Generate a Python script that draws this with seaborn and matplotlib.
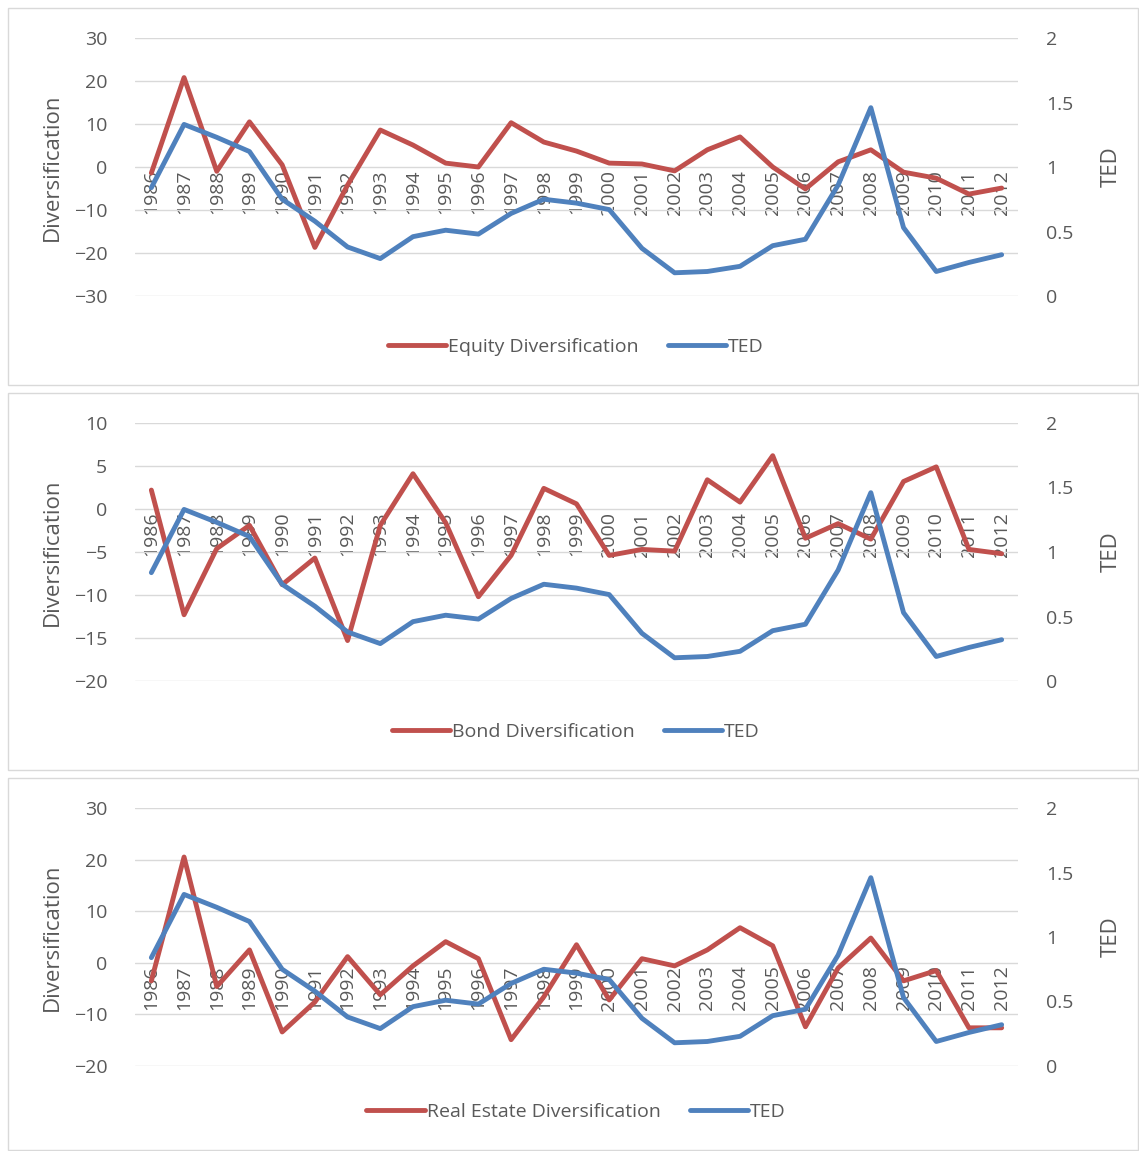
import matplotlib
matplotlib.use("Agg")
import matplotlib.pyplot as plt
import seaborn as sns
import pandas as pd
from matplotlib.patches import Rectangle

years = list(range(1986, 2013))
equity = [-1.4, 20.8, -1, 10.5, 0.5, -18.7, -4.2, 8.6, 5.1, 0.9, 0, 10.3, 5.8, 3.7, 0.9, 0.7, -0.9, 4, 7, 0, -5.1, 1.2, 4, -1.2, -2.6, -6.3, -4.9]
bond = [2.2, -12.3, -4.6, -1.9, -8.8, -5.7, -15.3, -1.9, 4.1, -1.6, -10.2, -5.4, 2.4, 0.6, -5.4, -4.7, -4.9, 3.4, 0.8, 6.2, -3.4, -1.7, -3.5, 3.2, 4.9, -4.7, -5.2]
real_estate = [-3.5, 20.5, -4.6, 2.5, -13.4, -7.6, 1.2, -6.2, -0.6, 4.1, 0.8, -14.9, -6.6, 3.5, -7.2, 0.8, -0.6, 2.5, 6.8, 3.3, -12.4, -1, 4.8, -3.5, -1.5, -12.6, -12.6]
ted = [0.84, 1.33, 1.23, 1.12, 0.75, 0.58, 0.38, 0.29, 0.46, 0.51, 0.48, 0.64, 0.75, 0.72, 0.67, 0.37, 0.18, 0.19, 0.23, 0.39, 0.44, 0.86, 1.46, 0.53, 0.19, 0.26, 0.32]

panels = [("Equity Diversification", equity, (-30, 30), 10),
          ("Bond Diversification", bond, (-20, 10), 5),
          ("Real Estate Diversification", real_estate, (-20, 30), 10)]

sns.set_style("white")
plt.rcParams['font.family'] = ['Open Sans', 'DejaVu Sans']
RED, BLUE, TXT = "#C0504D", "#4F81BD", "#595959"

W, H = 1139, 1151
fig = plt.figure(figsize=(W/100, H/100), dpi=100)
boxes = [(8, 385), (393, 770), (778, 1150)]
for i, (name, vals, lim, step) in enumerate(panels):
    top, bot = boxes[i]
    fig.add_artist(Rectangle((8/W, 1-bot/H), 1130/W, (bot-top)/H, transform=fig.transFigure,
                             fill=False, ec="#D9D9D9", lw=1))
    ytop = top + 30
    ybot = ytop + 258
    ax = fig.add_axes([135/W, 1-ybot/H, (1018-135)/W, 258/H])
    df = pd.DataFrame({"x": range(len(years)), "v": vals, "t": ted})
    sns.lineplot(data=df, x="x", y="v", ax=ax, color=RED, lw=3.5, label=name, legend=False)
    ax2 = ax.twinx()
    sns.lineplot(data=df, x="x", y="t", ax=ax2, color=BLUE, lw=3.5, label="TED", legend=False)
    ax.set_ylim(*lim)
    ax.set_yticks(list(range(lim[0], lim[1]+1, step)))
    ax.set_xlim(-0.5, len(years)-0.5)
    ax.set_xticks(range(len(years)))
    ax.set_xticklabels([str(y) for y in years])
    ax.spines['bottom'].set_position(('data', 0))
    for s in ax.spines.values():
        s.set_visible(False)
    ax.tick_params(axis='both', length=0, labelsize=14, labelcolor=TXT)
    ax.tick_params(axis='x', labelrotation=90, pad=2)
    ax.tick_params(axis='y', pad=20)
    ax.grid(axis='y', color="#D9D9D9", lw=1)
    ax.set_axisbelow(True)
    ax.set_xlabel("")
    ax.set_ylabel("Diversification", fontsize=16, color=TXT, labelpad=8)
    ax2.set_ylim(0, 2)
    ax2.set_yticks([0, 0.5, 1, 1.5, 2])
    ax2.set_yticklabels(["0", "0.5", "1", "1.5", "2"])
    for s in ax2.spines.values():
        s.set_visible(False)
    ax2.tick_params(axis='both', length=0)
    ax2.tick_params(axis='y', labelsize=14, labelcolor=TXT, pad=20)
    ax2.set_xlabel("")
    ax2.set_ylabel("TED", fontsize=16, color=TXT, labelpad=20)
    h1, l1 = ax.get_legend_handles_labels()
    h2, l2 = ax2.get_legend_handles_labels()
    fig.legend(h1+h2, l1+l2, loc="center", bbox_to_anchor=(576/W, 1-(bot-38)/H),
               ncol=2, frameon=False, fontsize=14, labelcolor=TXT, handlelength=3,
               columnspacing=1.5, handletextpad=0.1)

fig.savefig("out.png", dpi=100)
